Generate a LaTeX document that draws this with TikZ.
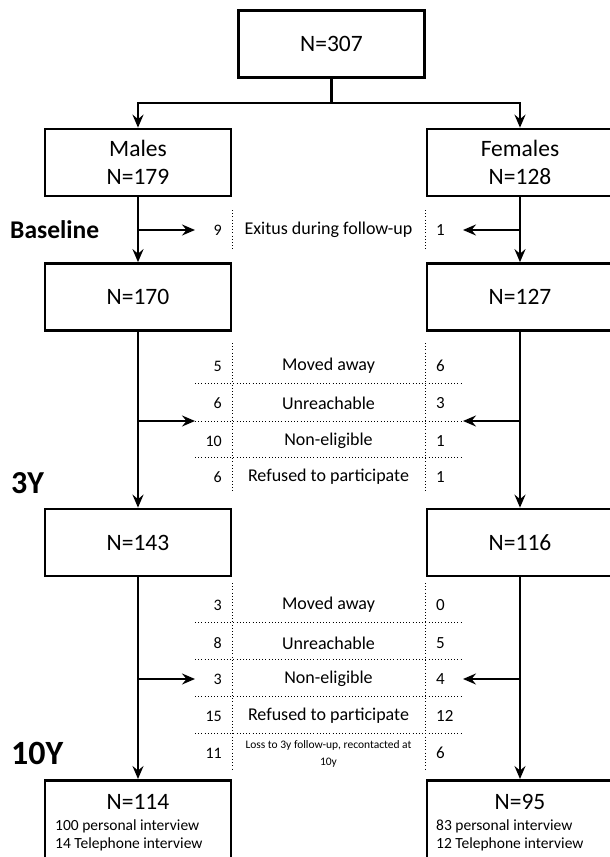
\documentclass[tikz,border=0pt]{standalone}
\usepackage{fontspec}
\setmainfont{Carlito}
\usetikzlibrary{arrows.meta}
\begin{document}
\begin{tikzpicture}[x=1pt,y=-1pt,
  box/.style={draw, line width=2.7pt, minimum width=186pt, minimum height=67pt, inner sep=0pt, align=center, font=\fontsize{23.5}{28}\selectfont},
  conn/.style={line width=2.2pt},
  arr/.style={conn,-{Stealth[length=13pt,width=11pt,inset=4.5pt]}},
  dots/.style={line width=1pt, dash pattern=on 1pt off 2.2pt},
  cnt/.style={font=\fontsize{18}{22}\selectfont, inner sep=0pt},
  lnum/.style={anchor=east, font=\fontsize{16}{18}\selectfont, inner sep=0pt},
  rnum/.style={anchor=west, font=\fontsize{17}{18}\selectfont, inner sep=0pt},
  phase/.style={anchor=west, inner sep=0pt}
]
\useasboundingbox (0,0) rectangle (610,857);
\clip (0,0) rectangle (610,857);

% boxes
\node[box] (top) at (331.5,44) {N=307};
\node[box] (m1) at (138,162.5) {Males\\N=179};
\node[box] (f1) at (520,162.5) {Females\\N=128};
\node[box] (m2) at (138,297) {N=170};
\node[box] (f2) at (520,297) {N=127};
\node[box] (m3) at (138,542.5) {N=143};
\node[box] (f3) at (520,542.5) {N=116};
\node[box, minimum height=130pt, anchor=north] (m4) at (138,779) {};
\node[box, minimum height=130pt, anchor=north] (f4) at (520,779) {};

\node[font=\fontsize{23.5}{26}\selectfont, inner sep=0pt] (m4n) at (138,802) {N=114};
\node[anchor=west, align=left, font=\fontsize{15.5}{17.5}\selectfont, inner sep=0pt] (m4t) at (55,835.5) {100 personal interview\\14 Telephone interview};
\node[font=\fontsize{23.5}{26}\selectfont, inner sep=0pt] (f4n) at (520,802) {N=95};
\node[anchor=west, align=left, font=\fontsize{15.5}{17.5}\selectfont, inner sep=0pt] (f4t) at (436,835.5) {83 personal interview\\12 Telephone interview};

% phase labels
\node[phase, font=\bfseries\fontsize{25.5}{28}\selectfont] (bl) at (10,230) {Baseline};
\node[phase, font=\bfseries\fontsize{32}{34}\selectfont] (y3) at (11,483) {3Y};
\node[phase, font=\bfseries\fontsize{34}{36}\selectfont] (y10) at (11,753) {10Y};

% top split
\coordinate (split) at (331.5,103);
\draw[conn] (top.south) -- (split);
\draw[arr] (split) -| (m1.north);
\draw[arr] (split) -| (f1.north);

% main flow
\draw[arr] (m1.south) -- (m2.north);
\draw[arr] (f1.south) -- (f2.north);
\draw[arr] (m2.south) -- (m3.north);
\draw[arr] (f2.south) -- (f3.north);
\draw[arr] (m3.south) -- (m4.north);
\draw[arr] (f3.south) -- (f4.north);

% side branches
\coordinate (e0l) at (195,230); \coordinate (e0r) at (463,230);
\coordinate (e1l) at (195,421); \coordinate (e1r) at (463,421);
\coordinate (e2l) at (195,679); \coordinate (e2r) at (463,679);
\draw[arr] (m1.south |- e0l) -- (e0l);
\draw[arr] (f1.south |- e0r) -- (e0r);
\draw[arr] (m2.south |- e1l) -- (e1l);
\draw[arr] (f2.south |- e1r) -- (e1r);
\draw[arr] (m3.south |- e2l) -- (e2l);
\draw[arr] (f3.south |- e2r) -- (e2r);

% table 0 (baseline)
\draw[dots] (232,210) -- (232,250);
\draw[dots] (425,210) -- (425,250);
\node[lnum] (a9) at (222,230) {9};
\node[cnt] (ex) at (328.5,230) {Exitus during follow-up};
\node[rnum] (a1) at (436,230) {1};

% table 1 (3Y)
\draw[dots] (232,343) -- (232,493);
\draw[dots] (425,343) -- (425,493);
\draw[dots] (195,383) -- (461,383);
\draw[dots] (195,421) -- (461,421);
\draw[dots] (195,457) -- (461,457);
\node[lnum] (b1l) at (222,366) {5};
\node[cnt]  (b1)  at (328.5,366) {Moved away};
\node[rnum] (b1r) at (436,366) {6};
\node[lnum] (b2l) at (222,403) {6};
\node[cnt]  (b2)  at (328.5,403) {Unreachable};
\node[rnum] (b2r) at (436,403) {3};
\node[lnum] (b3l) at (222,441) {10};
\node[cnt]  (b3)  at (328.5,441) {Non-eligible};
\node[rnum] (b3r) at (436,441) {1};
\node[lnum] (b4l) at (222,477) {6};
\node[cnt]  (b4)  at (328.5,477) {Refused to participate};
\node[rnum] (b4r) at (436,477) {1};

% table 2 (10Y)
\draw[dots] (232,583) -- (232,770);
\draw[dots] (425,583) -- (425,770);
\draw[dots] (195,622) -- (461,622);
\draw[dots] (195,659) -- (461,659);
\draw[dots] (195,696) -- (461,696);
\draw[dots] (195,733) -- (461,733);
\node[lnum] (c1l) at (222,605) {3};
\node[cnt]  (c1)  at (328.5,605) {Moved away};
\node[rnum] (c1r) at (436,605) {0};
\node[lnum] (c2l) at (222,643) {8};
\node[cnt]  (c2)  at (328.5,643) {Unreachable};
\node[rnum] (c2r) at (436,643) {5};
\node[lnum] (c3l) at (222,679) {3};
\node[cnt]  (c3)  at (328.5,679) {Non-eligible};
\node[rnum] (c3r) at (436,679) {4};
\node[lnum] (c4l) at (222,716) {15};
\node[cnt]  (c4)  at (328.5,716) {Refused to participate};
\node[rnum] (c4r) at (436,716) {12};
\node[lnum] (c5l) at (222,753) {11};
\node[cnt, align=center, font=\fontsize{11.5}{17}\selectfont] (c5) at (328.5,754) {Loss to 3y follow-up, recontacted at\\10y};
\node[rnum] (c5r) at (436,753) {6};
\end{tikzpicture}
\end{document}
